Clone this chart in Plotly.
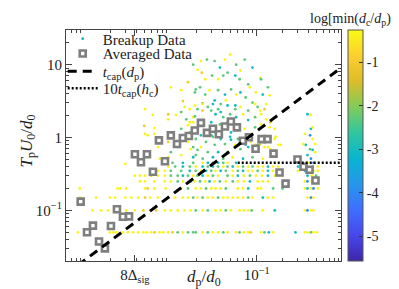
import plotly.graph_objects as go
import numpy as np

# ---------------- Averaged data ----------------
avg_dp = [8.93e-4, 1.057e-3, 1.24e-3, 1.46e-3, 1.71e-3, 2.01e-3, 2.36e-3, 2.77e-3, 3.26e-3, 3.82e-3,
          4.49e-3, 5.27e-3, 6.19e-3, 7.27e-3, 8.54e-3, 1.00e-2, 1.18e-2, 1.38e-2, 1.62e-2, 1.90e-2,
          2.24e-2, 2.63e-2, 3.09e-2, 3.62e-2, 4.26e-2, 5.00e-2, 5.87e-2, 6.89e-2, 8.09e-2, 9.68e-2,
          0.1137, 0.1334, 0.1567, 0.1840, 0.2161, 0.298, 0.350, 0.411, 0.482]
avg_T = [0.132, 0.0501, 0.0619, 0.0375, 0.0301, 0.0611, 0.104, 0.082, 0.0828, 0.590,
         0.459, 0.590, 0.339, 0.916, 0.474, 1.07, 0.815, 0.984, 1.05, 1.25,
         1.59, 1.16, 1.32, 1.11, 1.42, 1.66, 1.38, 0.904, 1.01, 0.703,
         0.953, 0.953, 0.601, 0.332, 0.233, 0.499, 0.397, 0.361, 0.258]

# ---------------- Breakup data (log10 d_p/d_0, log10 T U/d, colour class) ----------------
cloud_logdp = [-1.51, -2.53, -2.31, -2.30, -2.21, -2.19, -2.30, -2.27, -2.00, -2.03,
               -1.88, -1.86, -1.84, -1.80, -1.74, -1.69, -1.65, -1.72, -1.60, -1.74,
               -1.69, -1.63, -1.60, -1.58, -1.64, -1.71, -1.66, -1.63, -1.94, -1.88,
               -1.82, -1.78, -1.72, -1.88, -2.13, -2.03, -2.00, -1.71, -1.88, -1.92,
               -1.80, -1.74, -1.86, -2.03, -2.15, -2.03, -2.19, -1.78, -1.72, -1.63,
               -1.57, -1.45, -1.42, -1.34, -1.25, -1.19, -1.10, -1.02, -0.96, -0.91,
               -0.89, -0.84, -0.85, -1.80, -1.71, -1.65, -1.59, -1.53, -1.49, -1.42,
               -1.37, -1.31, -1.25, -1.22, -1.19, -1.13, -1.07, -1.02, -0.96, -0.91,
               -0.84, -0.78, -0.75, -1.77, -1.69, -1.57, -1.45, -1.34, -1.65, -1.48,
               -1.30, -1.78, -1.74, -0.41, -0.37, -0.44, -0.38, -0.35, -0.37, -0.32,
               -0.43, -0.38, -0.35, -0.32, -0.41, -0.35, -0.46, -0.37, -1.49, -1.37,
               -1.52, -1.45, -1.39, -1.34, -1.25, -1.20, -1.19, -1.10, -1.08, -0.96,
               -0.95, -0.87, -0.85, -1.55, -1.45, -1.37, -1.30, -1.24, -1.19, -1.13,
               -1.05, -1.49, -1.42, -1.36, -1.25, -0.99, -0.89, -1.53, -1.48, -1.39,
               -1.31, -1.24, -1.16, -1.10, -1.02, -0.95, -1.53, -1.43, -1.34, -1.20,
               -1.14, -1.02, -0.95, -0.79, -0.79, -0.72, -1.51, -1.30, -1.10, -0.99,
               -0.87, -1.31, -1.24, -1.05, -1.43, -1.14, -0.93, -1.01, -1.51, -1.39,
               -1.28, -1.16, -1.05, -0.93, -1.63, -1.74]
cloud_logT = [0.46, -0.36, 0.16, 0.39, 0.31, 0.05, 0.05, 0.03, 0.69, 0.32,
              0.65, 0.50, 0.42, 0.76, 1.00, 0.93, 1.05, 0.62, 0.59, 0.28,
              0.39, 0.37, 0.80, 1.07, 0.89, 0.66, 0.69, 0.47, 0.31, 0.35,
              0.25, 0.21, 0.29, 0.12, -0.29, -0.27, -0.20, -0.24, -0.24, -0.13,
              -0.06, -0.13, 0.01, -0.06, -0.13, 0.25, 0.13, 0.39, 0.44, 0.46,
              0.42, 0.39, 0.35, 0.44, 0.39, 0.42, 0.37, 0.46, 0.37, 0.39,
              0.25, 0.21, 0.14, 0.17, -0.02, 0.03, -0.06, 0.03, -0.10, -0.02,
              -0.09, 0.01, -0.10, -0.02, -0.16, -0.10, -0.06, -0.10, -0.09, -0.13,
              -0.16, 0.01, -0.10, -0.16, -0.17, -0.20, -0.20, -0.20, -0.13, 0.07,
              0.07, 0.07, 0.21, 0.32, 0.31, 0.05, 0.03, -0.02, 0.12, -0.09,
              -0.10, -0.16, -0.17, -0.20, -0.24, 0.14, -0.09, -0.29, 1.05, 1.07,
              0.85, 0.80, 0.85, 0.89, 0.85, 0.80, 0.92, 0.73, 0.69, 0.82,
              0.80, 0.69, 0.58, 0.65, 0.65, 0.59, 0.66, 0.59, 0.62, 0.55,
              0.48, 0.51, 0.46, 0.51, 0.44, 0.42, 0.46, 0.37, 0.32, 0.28,
              0.32, 0.28, 0.32, 0.24, 0.28, 0.32, 0.21, 0.18, 0.21, 0.18,
              0.12, 0.14, 0.18, 0.12, -0.02, -0.10, 0.01, -0.03, -0.13, -0.10,
              -0.13, 1.14, 1.00, 0.96, 0.96, 1.07, 0.59, 0.62, -0.27, -0.29,
              -0.27, -0.29, -0.27, -0.29, -0.29, -0.27]
cloud_class = ("tyoyyyyyyo" "yoyogyyggy" "goygogggyg" "gyggyyggyg" "ygyoyyyyyy"
               "ggttgygyyo" "yoyygtgtgt" "gtyggtyyoy" "yyyyggtgyg" "tgytyybyty"
               "tgtytyybgy" "gyggtgygyy" "ggyygtgytg" "gtgytgygtg" "gtytgytggt"
               "ygyyyygttg" "yygttgtytg" "ytgygt")

# quantised rows of breakup time
row_T = [0.05, 0.10, 0.15, 0.20, 0.25, 0.30, 0.35, 0.40, 0.45]
row_logdp = [
    [-3.08, -2.71, -2.67, -2.64, -2.56, -2.50, -2.44, -2.38, -2.32, -2.28, -2.23, -2.19, -2.13, -2.09,
     -2.03, -1.98, -1.92, -1.86, -1.80, -1.74, -1.71, -1.63, -1.57, -1.51, -1.45, -1.39, -1.34, -1.24,
     -1.20, -1.15, -1.10, -1.07, -0.95, -0.91, -0.86, -0.81, -0.55, -0.44, -0.41, -0.37, -0.34, -0.30],
    [-2.91, -2.81, -2.73, -2.62, -2.52, -2.42, -2.32, -2.24, -2.17, -2.07, -2.00, -1.92, -1.84, -1.77,
     -1.71, -1.63, -1.57, -1.48, -1.42, -1.36, -1.30, -1.20, -1.15, -1.10, -1.06, -0.93, -0.79, -0.44,
     -0.41, -0.37, -0.34],
    [-3.06, -2.87, -2.71, -2.65, -2.53, -2.46, -2.38, -2.30, -2.24, -2.15, -2.03, -1.95, -1.86, -1.80,
     -1.74, -1.69, -1.63, -1.57, -1.51, -1.45, -1.39, -1.34, -1.28, -1.22, -1.16, -1.10, -1.05, -0.93,
     -0.87, -0.81, -0.41, -0.37, -0.34],
    [-3.06, -2.62, -2.59, -2.52, -2.30, -2.27, -2.19, -2.06, -1.88, -1.80, -1.71, -1.65, -1.59, -1.53,
     -1.48, -1.42, -1.36, -1.22, -1.16, -1.10, -0.99, -0.95, -0.81, -0.70, -0.44, -0.41, -0.37, -0.34,
     -0.29],
    [-2.36, -2.30, -2.19, -2.07, -2.00, -1.92, -1.86, -1.77, -1.72, -1.66, -1.60, -1.55, -1.49, -1.43,
     -1.36, -1.28, -1.22, -1.15, -1.08, -0.99, -0.93, -0.87, -0.64, -0.44, -0.41, -0.36, -0.31],
    [-2.42, -2.36, -2.30, -2.23, -2.15, -2.07, -2.00, -1.92, -1.86, -1.80, -1.74, -1.69, -1.63, -1.57,
     -1.51, -1.45, -1.34, -1.28, -1.22, -1.15, -1.08, -1.01, -0.94, -0.87, -0.79, -0.70, -0.41, -0.36,
     -0.31],
    [-2.15, -2.07, -2.00, -1.88, -1.78, -1.71, -1.65, -1.59, -1.53, -1.48, -1.42, -1.36, -1.28, -1.22,
     -1.16, -1.10, -1.05, -0.99, -0.93, -0.87, -0.81, -0.52, -0.44, -0.38, -0.34, -0.29],
    [-2.03, -1.95, -1.86, -1.78, -1.71, -1.63, -1.57, -1.51, -1.45, -1.39, -1.34, -1.28, -1.22, -1.16,
     -1.10, -1.05, -0.99, -0.93, -0.87, -0.81, -0.75, -0.52, -0.41, -0.35, -0.29],
    [-1.98, -1.86, -1.74, -1.63, -1.57, -1.51, -1.45, -1.39, -1.34, -1.24, -0.41, -0.34],
]
row_class = [
    "yyyyy yyyyy yoyyy ogygg gygyy gyygy yoygt ytyyg yy",
    "yyyyy yoyoy yyyyg ygyyg yyyyg ytyby y",
    "yyyyy yyoyy yyyyg ygyyg yyyyy gytyy yby",
    "yyyyy oyyyg yygyy ygyyt yyggy tyby",
    "yyyyy gygyg ytygy gyyty yytyb yy",
    "yyyoy yggtg ygtyg ygyty gyyty ytyg",
    "yyggt gytgy tgygt yygyt yytby y",
    "ygtgy tgtgy gtygy gyyty ytyby",
    "gtgyt gtgyt yb",
]
class_value = {"y": -0.35, "o": -1.0, "g": -2.3, "t": -3.0, "b": -4.0}

# model lines
tcap_coef, tcap_exp = 9.44, 0.885          # t_cap(d_p) U0/d0 = coef * (d_p/d0)^exp
tcap_dp = [10 ** -3.22, 10 ** -0.02]
hc_level = 0.45                            # 10 t_cap(h_c) U0/d0
hc_dp = [0.060, 1.0]

# colour bar
cbar_min, cbar_max = -5.57, -0.25
cbar_ticks = [-1, -2, -3, -4, -5]

# axes
x_range_log = [-3.22, -0.02]
y_range_log = [-1.694, 1.476]
x_tickvals = [3.82e-3, 0.1]
x_ticktext = ["8Δ<sub>sig</sub>", "10<sup>−1</sup>"]
y_tickvals = [0.1, 1, 10]
y_ticktext = ["10<sup>−1</sup>", "1", "10"]

parula = [
    [0 / 9, "rgb(62,38,168)"], [1 / 9, "rgb(71,71,235)"], [2 / 9, "rgb(62,111,255)"],
    [3 / 9, "rgb(39,150,235)"], [4 / 9, "rgb(8,181,208)"], [5 / 9, "rgb(49,198,159)"],
    [6 / 9, "rgb(129,204,89)"], [7 / 9, "rgb(220,189,41)"], [8 / 9, "rgb(252,207,48)"],
    [9 / 9, "rgb(249,251,21)"],
]

# ---------- assemble breakup data ----------
bx, by, bc = [], [], []
cc = cloud_class.replace(" ", "")
for lx, ly, k in zip(cloud_logdp, cloud_logT, cc):
    bx.append(10 ** lx); by.append(10 ** ly); bc.append(class_value[k])
for T, xs, cls in zip(row_T, row_logdp, row_class):
    cls = cls.replace(" ", "")
    for lx, k in zip(xs, cls):
        bx.append(10 ** lx); by.append(T); bc.append(class_value[k])

font_family = "Liberation Serif, Times New Roman, serif"
fig = go.Figure()

fig.add_trace(go.Scatter(
    x=bx, y=by, mode="markers", name="Breakup Data", legend="legend",
    marker=dict(size=2.8, color=bc, colorscale=parula, cmin=cbar_min, cmax=cbar_max,
                line=dict(width=0),
                colorbar=dict(x=1.0255, xanchor="left", xpad=0, y=0.5, yanchor="middle",
                              len=1, lenmode="fraction", ypad=0, thickness=15,
                              tickvals=cbar_ticks, ticktext=[str(v) for v in cbar_ticks],
                              ticks="inside", ticklen=4, tickcolor="#333",
                              outlinewidth=1, outlinecolor="#555",
                              tickfont=dict(family=font_family, size=14, color="#222"))),
))
fig.add_trace(go.Scatter(
    x=avg_dp, y=avg_T, mode="markers", name="Averaged Data", legend="legend2",
    marker=dict(symbol="square", size=6, color="white", line=dict(color="#7f7f7f", width=2.6)),
))
tx = np.array(tcap_dp)
fig.add_trace(go.Scatter(
    x=tx, y=tcap_coef * tx ** tcap_exp, mode="lines", legend="legend3",
    name="<i>t</i><sub>cap</sub>(<i>d</i><sub>p</sub>)",
    line=dict(color="black", width=3, dash="9px,6px"),
))
fig.add_trace(go.Scatter(
    x=hc_dp, y=[hc_level, hc_level], mode="lines", legend="legend4",
    name="10<i>t</i><sub>cap</sub>(<i>h</i><sub>c</sub>)",
    line=dict(color="black", width=2.5, dash="2px,2px"),
))

# minor ticks (2..9 x decade)
x_minor = [m * 10.0 ** e for e in (-4, -3, -2, -1) for m in range(2, 10)
           if x_range_log[0] <= np.log10(m * 10.0 ** e) <= x_range_log[1]]
y_minor = [m * 10.0 ** e for e in (-2, -1, 0, 1) for m in range(2, 10)
           if y_range_log[0] <= np.log10(m * 10.0 ** e) <= y_range_log[1]]

axis_common = dict(showline=True, linecolor="#444", linewidth=1, mirror="ticks",
                   ticks="inside", ticklen=6, tickcolor="#444", showgrid=False, zeroline=False,
                   tickfont=dict(family=font_family, size=15, color="#222"))


def legend_at(yp):
    return dict(x=-0.012, y=yp, xanchor="left", yanchor="middle", bgcolor="rgba(0,0,0,0)",
                font=dict(family=font_family, size=15, color="#222"))


fig.update_layout(
    width=399, height=289,
    margin=dict(l=58, r=66, t=22, b=34),
    paper_bgcolor="white", plot_bgcolor="white",
    font=dict(family=font_family, size=14, color="#222"),
    xaxis=dict(type="log", range=x_range_log, tickmode="array", tickvals=x_tickvals,
               ticktext=x_ticktext,
               minor=dict(tickmode="array", tickvals=x_minor, ticks="inside", ticklen=3,
                          tickcolor="#444", showgrid=False),
               **axis_common),
    yaxis=dict(type="log", range=y_range_log, tickmode="array", tickvals=y_tickvals,
               ticktext=y_ticktext,
               minor=dict(tickmode="array", tickvals=y_minor, ticks="inside", ticklen=3,
                          tickcolor="#444", showgrid=False),
               **axis_common),
    legend=legend_at(0.961),
    legend2=legend_at(0.897),
    legend3=legend_at(0.820),
    legend4=legend_at(0.747),
    showlegend=True,
    annotations=[
        dict(text="<i>d</i><sub>p</sub>/<i>d</i><sub>0</sub>", xref="paper", yref="paper",
             x=0.5, y=-0.075, xanchor="center", yanchor="middle", showarrow=False,
             font=dict(family=font_family, size=17, color="#222")),
        dict(text="<i>T</i><sub>p</sub><i>U</i><sub>0</sub>/<i>d</i><sub>0</sub>", xref="paper",
             yref="paper", x=-0.14, y=0.52, xanchor="center", yanchor="middle", textangle=-90,
             showarrow=False, font=dict(family=font_family, size=17, color="#222")),
        dict(text="log[min(<i>d</i><sub>c</sub>/<i>d</i><sub>p</sub>)]", xref="paper", yref="paper",
             x=1.04, y=1.045, xanchor="center", yanchor="middle", showarrow=False,
             font=dict(family=font_family, size=14, color="#222")),
    ],
)

fig.write_html("out.html")
